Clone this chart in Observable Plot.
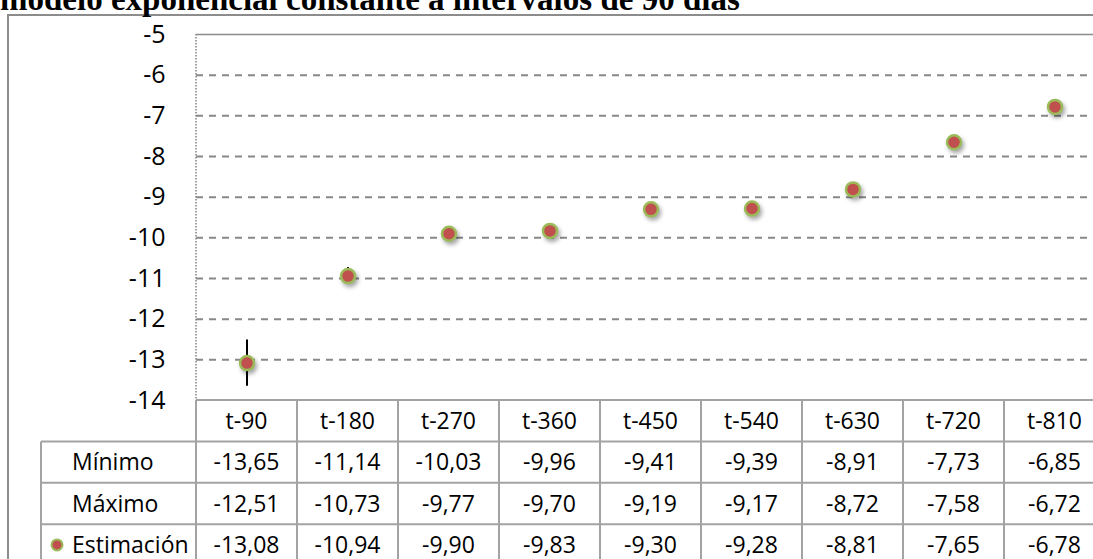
<!DOCTYPE html>
<html><head><meta charset="utf-8">
<script src="https://cdn.jsdelivr.net/npm/d3@7"></script>
<script src="https://cdn.jsdelivr.net/npm/@observablehq/plot@0.6"></script>
<style>
html,body{margin:0;padding:0;background:#fff;overflow:hidden;width:1093px;height:559px;}
#wrap{position:relative;width:1093px;height:559px;overflow:hidden;background:#fff;}
#frame{position:absolute;left:7px;top:14px;width:1100px;height:560px;border:2px solid #8c8c8c;box-sizing:border-box;}
#title{position:absolute;left:0;top:-17px;font:bold 33px "Liberation Serif","Times New Roman",serif;white-space:nowrap;line-height:33px;color:#000;}
#chart{position:absolute;left:0;top:0;width:1093px;height:559px;overflow:hidden;}
</style></head><body>
<div id="wrap"><div id="frame"></div><div id="title">modelo exponencial constante a intervalos de 90 días</div><div id="chart"></div></div>
<script>
const categories = ["t-90","t-180","t-270","t-360","t-450","t-540","t-630","t-720","t-810"];
const minimo     = [-13.65,-11.14,-10.03,-9.96,-9.41,-9.39,-8.91,-7.73,-6.85];
const maximo     = [-12.51,-10.73,-9.77,-9.70,-9.19,-9.17,-8.72,-7.58,-6.72];
const estimacion = [-13.08,-10.94,-9.90,-9.83,-9.30,-9.28,-8.81,-7.65,-6.78];
const yTicks = [-14,-13,-12,-11,-10,-9,-8,-7,-6,-5];
const gridValues = [-13,-12,-11,-10,-9,-8,-7,-6];
const rowLabels = ["Mínimo","Máximo","Estimación"];

const data = categories.map((c,i)=>({cat:c, min:minimo[i], max:maximo[i], est:estimacion[i]}));
const fmt = v => v.toFixed(2).replace(".", ",");

const RED = "#C0504D", GREEN = "#9BBB59";
const plot = Plot.plot({
  width: 1093, height: 559,
  marginLeft: 196, marginRight: 0, marginTop: 34, marginBottom: 159,
  x: {type: "band", domain: categories, padding: 0, range: [196, 1105], axis: null},
  y: {domain: [-14,-5]},
  style: {fontFamily: "'Open Sans', sans-serif", color: "#000", background: "transparent", overflow: "hidden"},
  marks: [
    Plot.ruleY(gridValues, {stroke:"#888", strokeWidth:2, strokeDasharray:"7,6"}),
    Plot.ruleY([-5], {stroke:"#8c8c8c", strokeWidth:1.5}),
    Plot.axisY(yTicks, {tickSize:0, tickPadding:31, tickFormat: d => String(d), fontSize:25, label:null}),
    Plot.ruleX(data, {x:"cat", y1:"min", y2:"max", stroke:"#000", strokeWidth:2}),
    Plot.dot(data, {x:"cat", y:"est", r:7, fill:RED, stroke:GREEN, strokeWidth:2.5})
  ]
});
document.getElementById("chart").appendChild(plot);

const xs = plot.scale("x"), ys = plot.scale("y");
const bw = xs.bandwidth;
const svg = d3.select(plot);
svg.selectAll('g[aria-label="dot"] circle').style("filter","drop-shadow(2px 3px 2px rgba(0,0,0,0.35))");

// left dotted edge of plot area
const xLeft = xs.apply(categories[0]);
const xRight = xs.apply(categories[categories.length-1]) + bw;
svg.insert("line", ":first-child").attr("x1", xLeft).attr("x2", xLeft)
  .attr("y1", ys.apply(-5)).attr("y2", ys.apply(-14))
  .attr("stroke", "#a0a0a0").attr("stroke-width", 2).attr("stroke-dasharray", "1.5,1.5");

// data table under the chart
const tbl = svg.append("g").attr("font-family","'Open Sans', sans-serif").attr("font-size", 23).attr("fill", "#000");
const top0 = ys.apply(-14);
const rowH = 41.4;
const rowsY = [top0, top0 + rowH, top0 + 2*rowH, top0 + 3*rowH, top0 + 4*rowH];
const labelX0 = 41;
const lc = "#a3a3a3";
// horizontal lines
tbl.append("line").attr("x1", xLeft).attr("x2", xRight).attr("y1", rowsY[0]).attr("y2", rowsY[0]).attr("stroke", lc).attr("stroke-width", 2);
for (let k = 1; k < rowsY.length; k++) {
  tbl.append("line").attr("x1", labelX0).attr("x2", xRight).attr("y1", rowsY[k]).attr("y2", rowsY[k]).attr("stroke", lc).attr("stroke-width", 2);
}
// vertical lines
tbl.append("line").attr("x1", labelX0).attr("x2", labelX0).attr("y1", rowsY[1]).attr("y2", rowsY[4]).attr("stroke", lc).attr("stroke-width", 2);
categories.forEach(c => {
  const x0 = xs.apply(c);
  tbl.append("line").attr("x1", x0).attr("x2", x0).attr("y1", rowsY[0]).attr("y2", rowsY[4]).attr("stroke", lc).attr("stroke-width", 2);
});
tbl.append("line").attr("x1", xRight).attr("x2", xRight).attr("y1", rowsY[0]).attr("y2", rowsY[4]).attr("stroke", lc).attr("stroke-width", 2);

// header row: categories
categories.forEach(c => {
  tbl.append("text").attr("x", xs.apply(c) + bw/2).attr("y", (rowsY[0]+rowsY[1])/2).attr("dy","0.35em")
    .attr("text-anchor","middle").text(c);
});
// data rows
const series = [minimo, maximo, estimacion];
series.forEach((arr, r) => {
  const cy = (rowsY[r+1] + rowsY[r+2]) / 2;
  tbl.append("text").attr("x", 72).attr("y", cy).attr("dy","0.35em").attr("text-anchor","start").text(rowLabels[r]);
  arr.forEach((v, i) => {
    tbl.append("text").attr("x", xs.apply(categories[i]) + bw/2).attr("y", cy).attr("dy","0.35em")
      .attr("text-anchor","middle").text(fmt(v));
  });
});
// legend key in Estimación row
tbl.append("circle").attr("cx", 57).attr("cy", (rowsY[3]+rowsY[4])/2).attr("r", 5.5)
  .attr("fill", RED).attr("stroke", GREEN).attr("stroke-width", 2);
</script>
</body></html>
